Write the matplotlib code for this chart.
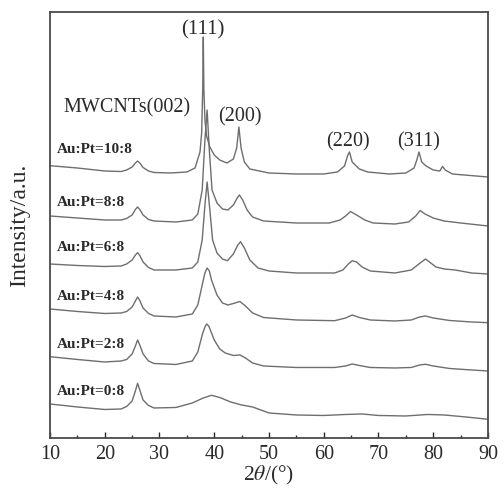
import matplotlib
matplotlib.use("Agg")
import matplotlib.pyplot as plt
from matplotlib.ticker import MultipleLocator

plt.rcParams['font.family'] = ['Liberation Serif', 'DejaVu Serif']
plt.rcParams['mathtext.fontset'] = 'stix'

# stacked XRD patterns, intensity in a.u. (offset already included)
theta_00 = [10, 15, 20, 23, 24, 25, 25.6, 26, 26.4, 27, 28, 29, 33, 36, 38, 39.5, 41, 43, 45, 47, 49,
            50, 55, 60, 64, 67, 70, 75, 79, 82, 86, 90]
int_00 = [34, 31, 28.5, 29, 31.5, 37, 47, 54.7, 48, 38, 32.5, 30, 30.5, 35, 40, 42.7, 40.5, 36, 33, 31, 27,
          25, 23, 22.5, 23.5, 24, 22.5, 22, 23.5, 23, 21, 18.7]

theta_28 = [10, 15, 20, 23, 24, 25, 25.6, 26, 26.4, 27, 28, 29, 33, 36, 37, 37.8, 38.3, 38.6, 39.0,
            39.5, 40, 41, 42, 43.5, 44.7, 45.7, 47, 49, 55, 62, 64, 65.2, 66.5, 68.5, 73, 76, 77.5,
            78.6, 80, 83, 87, 90]
int_28 = [81.3, 78.5, 76, 77, 78.5, 84, 92, 98, 93, 84, 77, 74.5, 73.5, 77, 86, 103, 111, 114, 112,
          105, 98, 89, 85, 82.5, 83, 80, 75, 72, 70.5, 70.5, 72, 74, 72.5, 70.5, 70, 70.5, 73,
          73.7, 72, 69.5, 68, 67]

theta_48 = [10, 15, 20, 23, 24, 25, 25.6, 26, 26.4, 27, 28, 29, 33, 36, 37, 37.8, 38.3, 38.7, 39.1,
            39.5, 40.5, 41.5, 42.5, 43.5, 44.7, 45.7, 47, 49, 55, 62, 64, 65.2, 66.5, 68.5, 73, 76,
            77.5, 78.6, 80, 83, 87, 90]
int_48 = [129, 126.5, 124.5, 125, 126.5, 131, 137, 141, 137.5, 130, 124.5, 122, 121, 124, 133, 153, 165,
          170, 167, 158, 143, 135, 133, 134.5, 136.5, 132, 125, 120.5, 118, 117.3, 120, 123, 120.5, 118,
          117, 118, 121, 122, 120, 117.5, 116, 115.3]

theta_68 = [10, 15, 20, 23, 24, 25, 25.6, 26, 26.4, 27, 28, 29, 33, 36, 37, 37.8, 38.3, 38.7, 39.2,
            39.7, 40.5, 41.5, 42.4, 43.5, 44.3, 44.8, 45.5, 46.5, 48, 50, 55, 62, 63.5, 64.5, 65.2,
            66, 67, 68.5, 73, 76, 77.6, 78.6, 79.3, 80.5, 82, 84, 87, 90]
int_68 = [174, 172.5, 171.5, 172, 174, 178, 183, 185.3, 182.5, 176, 170.5, 168, 168, 170, 176, 198, 233,
          256, 228, 198, 185, 179, 177.3, 184, 193, 196.3, 190, 178, 170, 167, 165, 165, 168, 174,
          177.3, 176, 171, 167, 165, 168, 175, 179, 176, 171, 169, 168, 165, 164]

theta_88 = [10, 15, 20, 23, 24, 25, 25.6, 26, 26.4, 27, 28, 29, 33, 36, 37, 37.8, 38.3, 38.7, 39.1,
            39.6, 40.5, 41.5, 42.5, 43.5, 44.2, 44.6, 45.2, 46, 47, 49, 55, 61, 63, 64, 64.9, 66,
            67.5, 69, 73, 75.5, 76.8, 77.6, 78.5, 80, 82, 85, 90]
int_88 = [222, 220, 218, 218, 219.5, 223, 228.5, 231, 228.5, 223, 218.5, 217, 216, 218, 224, 248, 298,
          328, 288, 248, 235, 229, 228, 233, 240, 243, 238, 228, 221, 217, 215, 215, 218, 222, 226.5,
          223, 218, 215, 214, 216, 222, 227.5, 224, 220, 217, 215, 212]

theta_108 = [10, 15, 20, 23, 24, 25, 25.6, 26, 26.4, 27, 28, 29, 32, 35, 36.5, 37.0, 37.4, 37.7, 37.9,
             38.0, 38.1, 38.3, 38.6, 39.2, 40, 41, 42.3, 43.5, 44.1, 44.5, 44.9, 45.5, 46.5, 50, 55,
             60, 62.5, 63.8, 64.4, 64.7, 65.2, 66.5, 68, 72, 75, 76.5, 77.0, 77.4, 77.9, 78.7, 80,
             81.2, 81.7, 82.2, 83.5, 90]
int_108 = [272.3, 270, 267, 266.5, 268, 271, 275, 277, 275, 270.5, 267, 265.5, 265, 266, 270, 279, 286,
           305, 350, 401, 350, 318, 302, 291, 283, 278, 275, 279, 290, 311, 290, 276, 269, 265, 264,
           264, 266, 272, 283, 286, 276, 269, 266, 264, 265, 270, 278, 286, 276, 272, 268,
           267, 271.5, 268, 264, 261]

sample_labels = ['Au:Pt=0:8', 'Au:Pt=2:8', 'Au:Pt=4:8', 'Au:Pt=6:8', 'Au:Pt=8:8', 'Au:Pt=10:8']
label_heights = [46, 93, 141, 190, 235, 288]

peak_labels = ['(111)', '(200)', '(220)', '(311)', 'MWCNTs(002)']
peak_theta = [37.95, 44.7, 64.4, 77.4, 24.0]
peak_heights = [408, 321, 296, 296, 330]

fig = plt.figure(figsize=(5.04, 4.88), dpi=100)
ax = fig.add_axes([0.0992, 0.1025, 0.8690, 0.8729])

curves = [(theta_00, int_00), (theta_28, int_28), (theta_48, int_48),
          (theta_68, int_68), (theta_88, int_88), (theta_108, int_108)]
for th, inten in curves:
    ax.plot(th, inten, color='#6e6e6e', lw=1.0)

for lab, h in zip(sample_labels, label_heights):
    ax.text(11.3, h, lab, fontsize=11, fontweight='bold', color='#2a2a2a',
            ha='left', va='center')

for lab, th, h in zip(peak_labels, peak_theta, peak_heights):
    fs = 15 if lab == '(111)' else 14.5
    ax.text(th, h, lab, fontsize=fs, color='#2a2a2a', ha='center', va='center')

ax.set_xlim(10, 90)
ax.set_ylim(0, 426)
ax.xaxis.set_major_locator(MultipleLocator(10))
ax.xaxis.set_minor_locator(MultipleLocator(5))
ax.tick_params(axis='x', which='both', direction='in', top=False, labelsize=14.5,
               colors='#2a2a2a', pad=5)
ax.tick_params(axis='x', which='major', length=4, width=1)
ax.tick_params(axis='x', which='minor', length=2.5, width=1)
ax.set_yticks([])
for sp in ax.spines.values():
    sp.set_color('#4a4a4a')
    sp.set_linewidth(1.3)

ax.set_xlabel(r'2$\theta$/(°)', fontsize=15.5, color='#2a2a2a', labelpad=0)
ax.set_ylabel('Intensity/a.u.', fontsize=17, color='#2a2a2a', labelpad=14)

fig.savefig('out.png', dpi=100)
